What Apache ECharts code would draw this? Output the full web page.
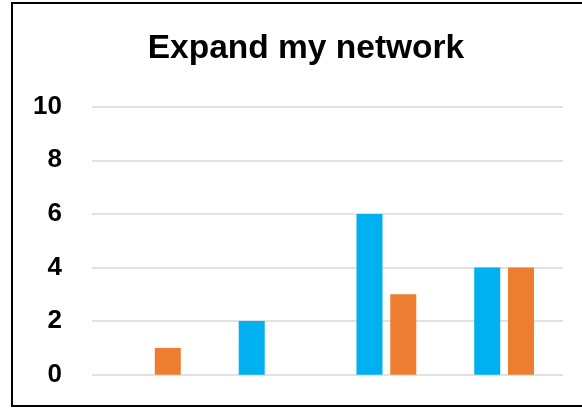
<!DOCTYPE html>
<html>
<head>
<meta charset="utf-8">
<script src="https://cdn.jsdelivr.net/npm/echarts@6/dist/echarts.min.js"></script>
<style>
html,body{margin:0;padding:0;background:#fff;}
#c{width:582px;height:408px;}
</style>
</head>
<body>
<div id="c"></div>
<script>
const titleText = 'Expand my network';
const categories = ['1', '2', '3', '4'];
const seriesBlue = [0, 2, 6, 4];
const seriesOrange = [1, 0, 3, 4];
const yTicks = { min: 0, max: 10, interval: 2 };

const chart = echarts.init(document.getElementById('c'), null, { renderer: 'canvas' });
chart.setOption({
  animation: false,
  backgroundColor: '#ffffff',
  title: {
    text: titleText,
    left: 301,
    textAlign: 'center',
    top: 27,
    textStyle: { fontFamily: 'Liberation Sans', fontWeight: 'bold', fontSize: 33.5, color: '#000' }
  },
  graphic: [{
    type: 'rect',
    shape: { x: 12, y: 3, width: 580, height: 403 },
    style: { fill: null, stroke: '#000', lineWidth: 2 },
    z: 100
  }],
  grid: { left: 92, right: 19, top: 106.7, bottom: 33.3, containLabel: false },
  xAxis: {
    type: 'category',
    data: categories,
    axisLine: { show: false },
    axisTick: { show: false },
    axisLabel: { show: false },
    splitLine: { show: false }
  },
  yAxis: {
    type: 'value',
    min: yTicks.min,
    max: yTicks.max,
    interval: yTicks.interval,
    axisLine: { show: false },
    axisTick: { show: false },
    axisLabel: { margin: 30, fontFamily: 'Liberation Sans', fontWeight: 'bold', fontSize: 26, color: '#000' },
    splitLine: { lineStyle: { color: '#D9D9D9', width: 1.5 } }
  },
  series: [
    { type: 'bar', name: 'A', data: seriesBlue, barWidth: 26, barGap: '30%', itemStyle: { color: '#00B0F0' } },
    { type: 'bar', name: 'B', data: seriesOrange, barWidth: 26, barGap: '30%', itemStyle: { color: '#ED7D31' } }
  ]
});
</script>
</body>
</html>
